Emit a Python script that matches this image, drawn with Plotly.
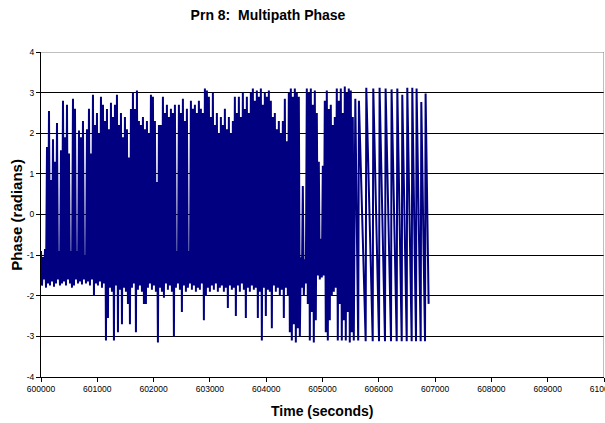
import numpy as np
import plotly.graph_objects as go

# ---- data (phase in radians) ----
# dense section: one upper and one lower excursion every 35.5 s, from 600000 s
t_start = 600000.0
step = 35.5
peak_phase = [
    -0.9, -1.05, -0.85, 1.66, 2.55, 0.85, 1.85, 1.3, 2.25, -0.9,
    1.58, 2.8, 1.9, 2.7, 1.5, -0.9, 2.85, 2.6, -0.9, 2.07,
    1.9, 2.3, -1.0, 2.1, 2.6, 1.5, 2.95, 2.2, 2.5, 2.0,
    2.9, 2.7, 2.3, 2.6, 2.1, 2.75, 2.4, 2.7, 2.95, 2.2,
    2.5, 1.9, 2.4, 2.1, 1.4, 2.6, 3.0, 2.6, 3.05, 2.3,
    2.2, 2.4, 2.1, 2.3, 2.0, 2.95, 2.9, 2.3, 0.8, 2.2,
    2.2, 2.9, 2.5, 2.7, 2.4, 2.6, 2.5, 2.7, -0.9, 2.7,
    2.5, 2.85, 2.3, 2.6, -0.9, 2.8, 2.6, 2.7, 2.5, 2.8,
    2.6, 2.5, 3.1, 3.05, 2.9, 2.4, 3.0, 2.2, 2.5, 2.0,
    2.4, 2.2, 2.6, 2.1, 2.4, 2.0, 2.3, 2.9, 2.5, 2.9,
    2.4, 3.0, 2.6, 2.9, 2.5, 3.0, 3.1, 2.8, 3.05, 2.9,
    3.1, 2.7, 3.0, 2.9, 3.05, 2.8, 2.4, 2.5, 2.1, 2.3,
    2.0, 2.3, 2.85, 1.8, 3.0, 3.1, 2.9, 3.1, 3.0, 2.9,
    -1.05, 0.7, -1.1, 3.1, 3.0, 3.1, 2.7, 3.05, 2.5, 1.3,
    -0.6, 1.2, 2.8, 3.05, 2.6, 2.7, 2.2, 2.4, 3.1, 2.8,
    3.1, 2.5, 3.15, 3.0, 3.1, 3.05, 2.4,
]
trough_phase = [
    -1.75, -1.6, -1.8, -1.7, -1.75, -1.65, -1.78, -1.7, -1.6, -1.75,
    -1.7, -1.65, -1.75, -1.6, -1.7, -1.8, -1.75, -1.6, -1.7, -1.65,
    -1.72, -1.6, -1.7, -1.65, -1.75, -1.6, -2.0, -1.7, -1.75, -1.65,
    -1.8, -1.7, -3.1, -2.55, -1.8, -1.9, -3.1, -1.75, -2.9, -1.85,
    -2.7, -1.8, -1.9, -2.2, -2.7, -1.8, -1.7, -2.9, -1.85, -1.75,
    -1.9, -2.2, -2.2, -1.8, -1.7, -1.85, -1.75, -1.9, -3.15, -1.8,
    -1.9, -2.05, -1.7, -1.85, -1.75, -1.9, -3.0, -1.8, -1.7, -1.85,
    -2.4, -1.75, -1.9, -1.8, -1.7, -1.85, -1.75, -1.9, -1.8, -1.85,
    -1.7, -2.6, -2.0, -1.8, -1.9, -1.75, -1.85, -1.7, -1.9, -1.8,
    -1.75, -1.9, -1.8, -2.3, -1.75, -1.85, -1.8, -2.5, -1.75, -1.9,
    -1.7, -1.85, -2.55, -1.8, -1.9, -1.75, -1.85, -1.8, -2.55, -1.9,
    -3.1, -1.8, -2.5, -1.85, -1.9, -2.8, -1.75, -1.9, -1.8, -2.0,
    -1.85, -2.55, -1.8, -2.0, -2.9, -3.1, -2.7, -3.15, -2.8, -3.0,
    -1.8, -2.0, -1.7, -2.2, -3.1, -2.4, -3.15, -2.6, -1.5, -1.6,
    -1.55, -1.5, -2.9, -3.1, -2.6, -2.0, -1.9, -1.8, -3.1, -2.2,
    -3.1, -2.6, -3.1, -2.4, -3.15, -2.9, -3.1,
]
# phase-wrapping section at the end of the pass (time s, phase rad)
wrap_time = [
    605583, 605634, 605647, 605767, 605778, 605892, 605902, 606004,
    606014, 606110, 606121, 606217, 606227, 606318, 606329, 606407,
    606417, 606496, 606506, 606584, 606595, 606661, 606671, 606744,
    606755, 606821, 606831, 606885,
]
wrap_phase = [
    2.85, -3.1, 2.8, -3.12, 3.12, -3.12, 3.1, -3.12,
    3.12, -3.12, 3.1, -3.12, 3.08, -3.12, 3.1, -3.12,
    2.95, -3.12, 3.12, -3.12, 3.12, -3.12, 3.1, -3.12,
    2.77, -3.12, 2.98, -2.2,
]

x_ticks = list(range(600000, 610001, 1000))
y_ticks = list(range(-4, 5))

# ---- assemble the time series ----
n = len(peak_phase)
t_peak = t_start + step * np.arange(n)
t_trough = t_peak + step / 2
t_dense = np.empty(2 * n)
v_dense = np.empty(2 * n)
t_dense[0::2] = t_peak
t_dense[1::2] = t_trough
v_dense[0::2] = peak_phase
v_dense[1::2] = trough_phase
t_all = np.concatenate([t_dense, wrap_time])
v_all = np.concatenate([v_dense, wrap_phase])

FONT = "Liberation Sans, Arial, sans-serif"
W, H = 605, 423
L, R, T, B = 40.7, 1.0, 52.0, 46.0
pw = W - L - R
ph = H - T - B

fig = go.Figure()
fig.add_trace(go.Scatter(
    x=t_all, y=v_all, mode="lines",
    line=dict(color="#000080", width=2),
    hoverinfo="skip", showlegend=False,
))

fig.update_layout(
    width=W, height=H,
    margin=dict(l=L, r=R, t=T, b=B, pad=0, autoexpand=False),
    paper_bgcolor="white", plot_bgcolor="white",
    font=dict(family=FONT, color="black"),
    title=dict(
        text="<b>Prn 8:  Multipath Phase</b>",
        font=dict(family=FONT, size=14, color="black"),
        x=268 / W, xref="container", xanchor="center",
        y=1 - 15 / H, yref="container", yanchor="middle",
    ),
    xaxis=dict(
        range=[600000, 610000], tickvals=x_ticks,
        ticktext=[str(v) for v in x_ticks],
        ticks="outside", ticklen=4, tickcolor="black", tickwidth=1,
        tickfont=dict(family=FONT, size=8.5, color="black"),
        ticklabeloverflow="allow", automargin=False,
        showline=True, linecolor="black", linewidth=1,
        showgrid=False, zeroline=False,
    ),
    yaxis=dict(
        range=[-4, 4], tickvals=y_ticks,
        ticktext=[str(v) for v in y_ticks],
        ticks="outside", ticklen=4, tickcolor="black", tickwidth=1,
        tickfont=dict(family=FONT, size=8.5, color="black"),
        automargin=False,
        showline=True, linecolor="black", linewidth=1,
        showgrid=True, gridcolor="black", gridwidth=1,
        zeroline=False,
    ),
    shapes=[
        dict(type="line", xref="x", yref="y", x0=600000, x1=610000, y0=4, y1=4,
             line=dict(color="#808080", width=1), layer="above"),
        dict(type="line", xref="x", yref="y", x0=610000, x1=610000, y0=-4, y1=4,
             line=dict(color="#808080", width=1), layer="above"),
    ],
    annotations=[
        dict(text="<b>Phase (radians)</b>", textangle=-90,
             xref="paper", yref="paper",
             x=(16 - L) / pw, y=(H - B - 214.5) / ph,
             xanchor="center", yanchor="middle", showarrow=False,
             font=dict(family=FONT, size=15, color="black")),
        dict(text="<b>Time (seconds)</b>",
             xref="paper", yref="paper",
             x=(322 - L) / pw, y=(H - B - 411) / ph,
             xanchor="center", yanchor="middle", showarrow=False,
             font=dict(family=FONT, size=14, color="black")),
    ],
)

fig.write_html(
    "out.html",
    config={"displayModeBar": False},
    post_script="document.body.style.margin='0';document.body.style.overflow='hidden';",
)
